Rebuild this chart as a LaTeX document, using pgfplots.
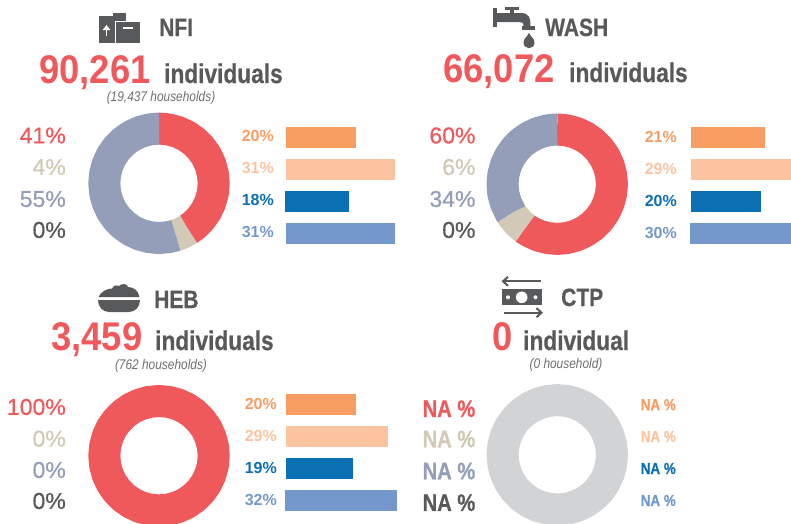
\documentclass[border=0pt]{standalone}
\usepackage{fontspec}
\setmainfont{Liberation Sans}
\newfontfamily\med[FakeBold=0.5]{Liberation Sans}
\newfontfamily\cond[FakeStretch=0.84,BoldFeatures={FakeBold=0.5}]{Liberation Sans}
\newfontfamily\numf[FakeStretch=0.91]{Liberation Sans}
\newfontfamily\thin[FakeStretch=0.85]{Liberation Sans}
\usepackage{pgfplots}
\pgfplotsset{compat=1.18}
\usepgfplotslibrary{polar}
\definecolor{cred}{HTML}{F0595B}
\definecolor{ctan}{HTML}{D2CAB7}
\definecolor{cslate}{HTML}{949EB8}
\definecolor{cdark}{HTML}{58595B}
\definecolor{corange}{HTML}{F89D62}
\definecolor{clight}{HTML}{FCC3A0}
\definecolor{cblue}{HTML}{0B6FB4}
\definecolor{csky}{HTML}{7598CC}
\definecolor{cgray}{HTML}{D1D3D4}
\definecolor{chh}{HTML}{6D6E71}
\pgfplotsset{
  donut/.style={scale only axis,width=141.4pt,height=141.4pt,xmin=0,xmax=360,ymin=0,ymax=70.7,
    axis lines=none,ticks=none,clip=false,anchor=center},
  seg/.style={line width=32pt,no marks,line cap=butt,line join=round},
  bars/.style={scale only axis,width=140pt,height=128pt,xmin=0,xmax=40,ymin=-0.5,ymax=3.5,y dir=reverse,
    axis lines=none,ticks=none,clip=false,anchor=north west,xbar,bar width=21pt,bar shift=0pt},
}
\newcommand\T[6]{\node[anchor=#1,inner sep=0,text=#5,font=\fontsize{#4}{#4}\selectfont] at (#2,#3) {#6};}
\begin{document}
\begin{tikzpicture}[x=1pt,y=-1pt]
\path[use as bounding box,clip] (0,0) rectangle (791,523);
\coordinate (d1) at (159,183.3);
\coordinate (d2) at (557.2,184.2);
\coordinate (d3) at (159,455.7);
\coordinate (d4) at (557.3,454.8);
\coordinate (b1) at (286,121.5);
\coordinate (b2) at (691,121.5);
\coordinate (b3) at (286,388.5);

% NFI donut
\begin{polaraxis}[donut,at={(d1)}]
\addplot[seg,draw=cred] coordinates {(90,54.7)(89,54.7)(80,54.7)(70,54.7)(60,54.7)(50,54.7)(40,54.7)(30,54.7)(20,54.7)(10,54.7)(0,54.7)(-10,54.7)(-20,54.7)(-30,54.7)(-40,54.7)(-50,54.7)(-57,54.7)(-57.6,54.7)};
\addplot[seg,draw=ctan] coordinates {(-57.6,54.7)(-58,54.7)(-65,54.7)(-71.6,54.7)(-72,54.7)};
\addplot[seg,draw=cslate] coordinates {(-72,54.7)(-73,54.7)(-80,54.7)(-90,54.7)(-100,54.7)(-110,54.7)(-120,54.7)(-130,54.7)(-140,54.7)(-150,54.7)(-160,54.7)(-170,54.7)(-180,54.7)(-190,54.7)(-200,54.7)(-210,54.7)(-220,54.7)(-230,54.7)(-240,54.7)(-250,54.7)(-260,54.7)(-269,54.7)(-270,54.7)};
\end{polaraxis}
% WASH donut
\begin{polaraxis}[donut,at={(d2)}]
\addplot[seg,draw=cred] coordinates {(90,54.7)(89,54.7)(80,54.7)(70,54.7)(60,54.7)(50,54.7)(40,54.7)(30,54.7)(20,54.7)(10,54.7)(0,54.7)(-10,54.7)(-20,54.7)(-30,54.7)(-40,54.7)(-50,54.7)(-60,54.7)(-70,54.7)(-80,54.7)(-90,54.7)(-100,54.7)(-110,54.7)(-120,54.7)(-125,54.7)(-126,54.7)};
\addplot[seg,draw=ctan] coordinates {(-126,54.7)(-127,54.7)(-135,54.7)(-145,54.7)(-147,54.7)(-147.6,54.7)};
\addplot[seg,draw=cslate] coordinates {(-147.6,54.7)(-148,54.7)(-160,54.7)(-170,54.7)(-180,54.7)(-190,54.7)(-200,54.7)(-210,54.7)(-220,54.7)(-230,54.7)(-240,54.7)(-250,54.7)(-260,54.7)(-269,54.7)(-270,54.7)};
\end{polaraxis}
% HEB donut
\begin{polaraxis}[donut,at={(d3)}]
\addplot[seg,draw=cred] coordinates {(90,54.7)(80,54.7)(70,54.7)(60,54.7)(50,54.7)(40,54.7)(30,54.7)(20,54.7)(10,54.7)(0,54.7)(-10,54.7)(-20,54.7)(-30,54.7)(-40,54.7)(-50,54.7)(-60,54.7)(-70,54.7)(-80,54.7)(-90,54.7)(-100,54.7)(-110,54.7)(-120,54.7)(-130,54.7)(-140,54.7)(-150,54.7)(-160,54.7)(-170,54.7)(-180,54.7)(-190,54.7)(-200,54.7)(-210,54.7)(-220,54.7)(-230,54.7)(-240,54.7)(-250,54.7)(-260,54.7)(-270,54.7)(-280,54.7)};
\end{polaraxis}
% CTP donut (no data)
\begin{polaraxis}[donut,at={(d4)}]
\addplot[seg,draw=cgray] coordinates {(90,54.7)(80,54.7)(70,54.7)(60,54.7)(50,54.7)(40,54.7)(30,54.7)(20,54.7)(10,54.7)(0,54.7)(-10,54.7)(-20,54.7)(-30,54.7)(-40,54.7)(-50,54.7)(-60,54.7)(-70,54.7)(-80,54.7)(-90,54.7)(-100,54.7)(-110,54.7)(-120,54.7)(-130,54.7)(-140,54.7)(-150,54.7)(-160,54.7)(-170,54.7)(-180,54.7)(-190,54.7)(-200,54.7)(-210,54.7)(-220,54.7)(-230,54.7)(-240,54.7)(-250,54.7)(-260,54.7)(-270,54.7)(-280,54.7)};
\end{polaraxis}

% Bars
\begin{axis}[bars,at={(b1)}]
\addplot[fill=corange,draw=none] coordinates {(20,0)};
\addplot[fill=clight,draw=none] coordinates {(31,1)};
\addplot[fill=cblue,draw=none,xshift=-1pt] coordinates {(18.3,2)};
\addplot[fill=csky,draw=none] coordinates {(31,3)};
\end{axis}
\begin{axis}[bars,at={(b2)}]
\addplot[fill=corange,draw=none] coordinates {(21,0)};
\addplot[fill=clight,draw=none] coordinates {(29,1)};
\addplot[fill=cblue,draw=none] coordinates {(20,2)};
\addplot[fill=csky,draw=none,xshift=-1pt] coordinates {(30,3)};
\end{axis}
\begin{axis}[bars,at={(b3)}]
\addplot[fill=corange,draw=none] coordinates {(20,0)};
\addplot[fill=clight,draw=none] coordinates {(29,1)};
\addplot[fill=cblue,draw=none] coordinates {(19,2)};
\addplot[fill=csky,draw=none,xshift=-1pt] coordinates {(32,3)};
\end{axis}

% Titles and totals
\T{base west}{159}{36}{25}{cdark}{\cond\bfseries NFI}
\T{base west}{545}{36}{25}{cdark}{\cond\bfseries WASH}
\T{base west}{154}{308}{25}{cdark}{\cond\bfseries HEB}
\T{base west}{561}{306}{25}{cdark}{\cond\bfseries CTP}
\T{base west}{39}{83}{40}{cred}{\numf\bfseries 90,261}
\T{base west}{164}{83}{27}{cdark}{\cond\bfseries individuals}
\T{base west}{443}{82}{40}{cred}{\numf\bfseries 66,072}
\T{base west}{569}{82}{27}{cdark}{\cond\bfseries individuals}
\T{base west}{51}{350}{40}{cred}{\numf\bfseries 3,459}
\T{base west}{155}{350}{27}{cdark}{\cond\bfseries individuals}
\T{base west}{492}{350}{40}{cred}{\numf\bfseries 0}
\T{base west}{523}{350}{27}{cdark}{\cond\bfseries individual}
\T{center}{161}{98}{14}{chh}{\thin\itshape (19,437 households)}
\T{center}{161}{366}{14}{chh}{\thin\itshape (762 households)}
\T{center}{566}{365}{14}{chh}{\thin\itshape (0 household)}

% Left labels
\T{east}{66}{135.5}{23}{cred}{\med 41\%}
\T{east}{66}{167}{23}{ctan}{\med 4\%}
\T{east}{66}{199}{23}{cslate}{\med 55\%}
\T{east}{66}{230}{23}{cdark}{\med 0\%}
\T{east}{475.7}{135.5}{23}{cred}{\med 60\%}
\T{east}{475.7}{167}{23}{ctan}{\med 6\%}
\T{east}{475.7}{199}{23}{cslate}{\med 34\%}
\T{east}{475.7}{230}{23}{cdark}{\med 0\%}
\T{east}{66}{407}{23}{cred}{\med 100\%}
\T{east}{66}{438.7}{23}{ctan}{\med 0\%}
\T{east}{66}{470}{23}{cslate}{\med 0\%}
\T{east}{66}{501}{23}{cdark}{\med 0\%}
\T{east}{475.5}{408.7}{24}{cred}{\cond\bfseries NA \%}
\T{east}{475.5}{439}{24}{ctan}{\cond\bfseries NA \%}
\T{east}{475.5}{471}{24}{cslate}{\cond\bfseries NA \%}
\T{east}{475.5}{502.7}{24}{cdark}{\cond\bfseries NA \%}

% Bar labels
\T{east}{274}{135.5}{16}{corange}{\bfseries 20\%}
\T{east}{274}{167.5}{16}{clight}{\bfseries 31\%}
\T{east}{274}{199.5}{16}{cblue}{\bfseries 18\%}
\T{east}{274}{231.5}{16}{csky}{\bfseries 31\%}
\T{east}{677}{136.5}{16}{corange}{\bfseries 21\%}
\T{east}{677}{168.5}{16}{clight}{\bfseries 29\%}
\T{east}{677}{200.5}{16}{cblue}{\bfseries 20\%}
\T{east}{677}{232.5}{16}{csky}{\bfseries 30\%}
\T{east}{277}{404}{16}{corange}{\bfseries 20\%}
\T{east}{277}{435.5}{16}{clight}{\bfseries 29\%}
\T{east}{277}{468}{16}{cblue}{\bfseries 19\%}
\T{east}{277}{499.5}{16}{csky}{\bfseries 32\%}
\T{east}{676}{404.7}{16}{corange}{\cond\bfseries NA \%}
\T{east}{676}{436.5}{16}{clight}{\cond\bfseries NA \%}
\T{east}{676}{468.5}{16}{cblue}{\cond\bfseries NA \%}
\T{east}{676}{500.5}{16}{csky}{\cond\bfseries NA \%}

% Icons
% NFI boxes
\fill[cdark] (98.7,16) rectangle (125.7,42.7);
\fill[cdark] (113,13) rectangle (125.7,16);
\fill[white] (114.7,21) rectangle (141,44);
\fill[cdark] (116.2,22.3) rectangle (139.7,42.7);
\fill[white] (122.5,26.8) rectangle (133,29.2);
\draw[white,line width=1.6pt] (106.5,36) -- (106.5,27.5);
\fill[white] (102.6,30) -- (106.5,25) -- (110.4,30) -- cycle;
% WASH tap
\fill[cdark] (493,8) rectangle (496.5,27);
\fill[cdark] (496.5,13) -- (521,13) .. controls (530,13) and (530.5,19) .. (530.5,26) -- (523.5,26) .. controls (523.5,22.5) and (522,22) .. (519,22) -- (496.5,22) -- cycle;
\fill[cdark] (521.5,26) rectangle (535,30);
\fill[cdark] (509.5,9) rectangle (514,13);
\fill[cdark] (505,7) rectangle (518.5,9.6);
\fill[cdark] (529,32.5) .. controls (529.5,36) and (534.5,38) .. (534.5,42.5) .. controls (534.5,50) and (523.5,50) .. (523.5,42.5) .. controls (523.5,38) and (528.5,36) .. (529,32.5) -- cycle;
% HEB bowl
\fill[cdark] (98.5,297) .. controls (101,291) and (108,288.5) .. (112,288.5) .. controls (114,285) and (117,284.5) .. (119,286) .. controls (122,283) and (127,283.5) .. (128,287) .. controls (134,287) and (138.5,291) .. (139.5,297) -- cycle;
\fill[cdark] (98,300) -- (140,300) .. controls (140,307) and (135,312) .. (129,312) -- (109,312) .. controls (103,312) and (98,307) .. (98,300) -- cycle;
% CTP
\fill[cdark] (502,289.3) rectangle (541.7,305.3);
\fill[white] (521.7,297.3) circle (5.8);
\fill[white] (508,297.3) circle (2);
\fill[white] (535.5,297.3) circle (2);
\draw[cdark,line width=2pt] (503,281.3) -- (540.5,281.3);
\draw[cdark,line width=2pt] (508,276.8) -- (503,281.3) -- (508,285.8);
\draw[cdark,line width=2pt] (503.5,312.7) -- (541.5,312.7);
\draw[cdark,line width=2pt] (536.5,308.2) -- (541.5,312.7) -- (536.5,317.2);
\end{tikzpicture}
\end{document}
